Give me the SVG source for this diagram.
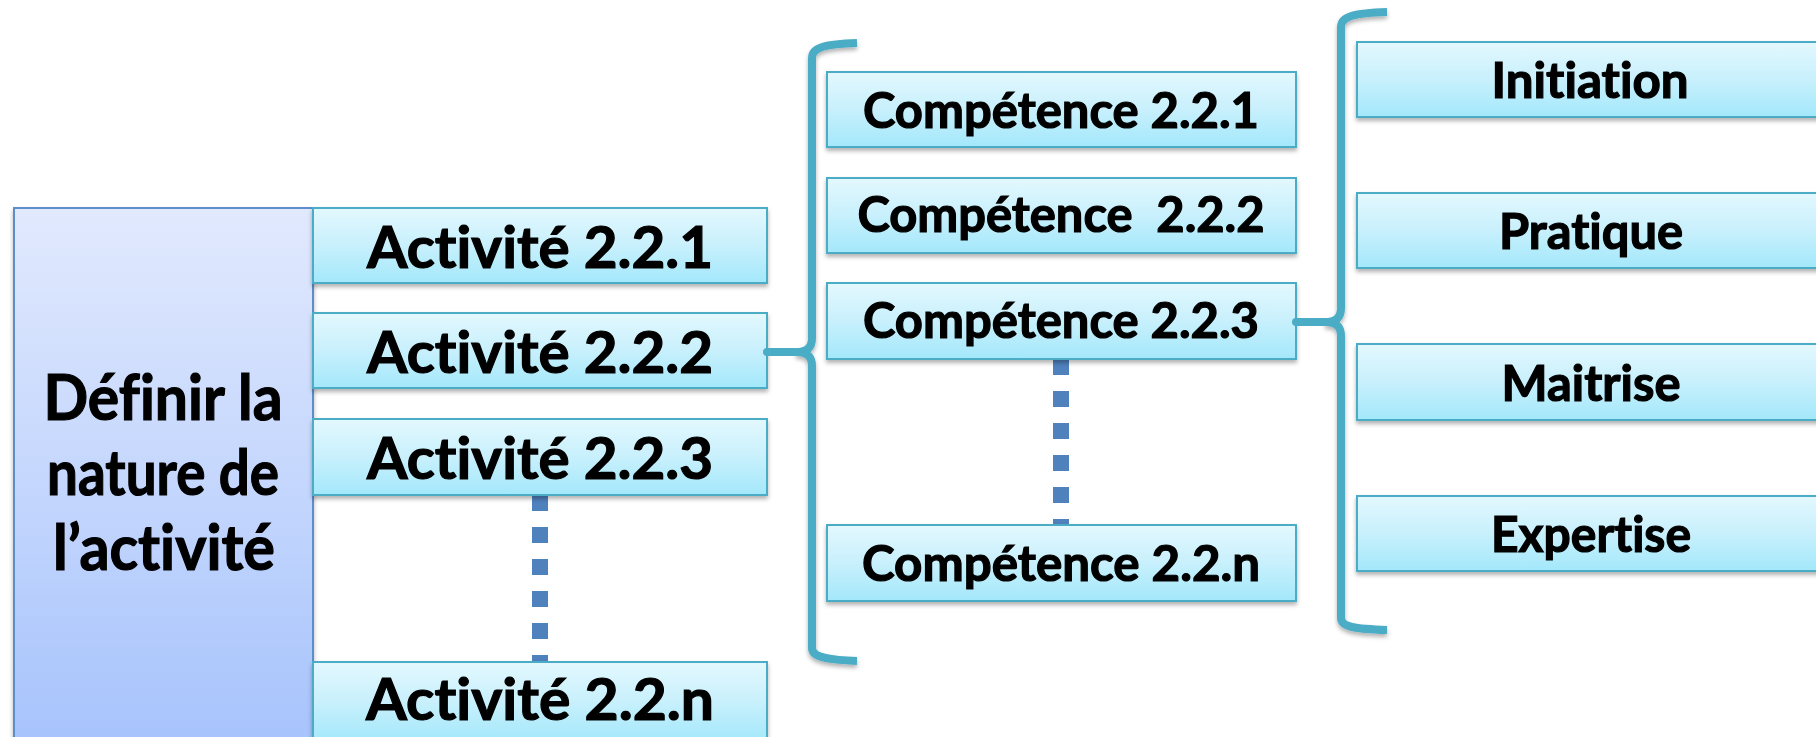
<svg xmlns="http://www.w3.org/2000/svg" width="1816" height="737" viewBox="0 0 1816 737">
  <defs>
    <linearGradient id="gCyan" x1="0" y1="0" x2="0" y2="1">
      <stop offset="0" stop-color="#E3F8FE"/>
      <stop offset="0.5" stop-color="#C8F0FC"/>
      <stop offset="1" stop-color="#A3E8FB"/>
    </linearGradient>
    <linearGradient id="gBlue" x1="0" y1="0" x2="0" y2="1">
      <stop offset="0" stop-color="#E1E9FD"/>
      <stop offset="0.5" stop-color="#C5D7FD"/>
      <stop offset="1" stop-color="#A6C3FC"/>
    </linearGradient>
    <filter id="shadow" x="-10%" y="-20%" width="120%" height="150%">
      <feDropShadow dx="0" dy="3" stdDeviation="2" flood-color="#000" flood-opacity="0.3"/>
    </filter>
  </defs>
  <style>
    .box { fill: url(#gCyan); stroke: #4BACC6; stroke-width: 2; filter: url(#shadow); }
    .main { fill: url(#gBlue); stroke: #5B8DCC; stroke-width: 2; filter: url(#shadow); }
    .t { font-family: Lato, "Open Sans", "Liberation Sans", sans-serif; font-weight: bold; fill: #000; stroke: #000; stroke-width: 1.2; text-anchor: middle; font-variant-ligatures: none; font-feature-settings: "liga" 0, "clig" 0; }
    .big { font-size: 57px; }
    .mid { font-size: 49px; }
    .head { font-size: 63px; }
    .dots { stroke: #4F81BD; stroke-width: 16; stroke-dasharray: 16 16; fill: none; }
    .brace { stroke: #4BACC6; stroke-width: 8; fill: none; filter: url(#shadow); }
    .stub { stroke: #4BACC6; stroke-width: 8; fill: none; stroke-linecap: round; }
  </style>

  <rect width="1816" height="737" fill="#FFFFFF"/>

  <!-- connectors: dotted continuations and braces -->
  <g id="connectors">
    <line class="dots" x1="540" y1="495" x2="540" y2="662"/>
    <line class="dots" x1="1061" y1="359" x2="1061" y2="525"/>
  </g>

  <!-- root node -->
  <g id="root">
    <rect class="main" x="14" y="208" width="299" height="540"/>
    <text class="t head" x="163" y="420" textLength="239" lengthAdjust="spacingAndGlyphs">Définir la</text>
    <text class="t head" x="163" y="495" textLength="232" lengthAdjust="spacingAndGlyphs">nature de</text>
    <text class="t head" x="164" y="570" textLength="222" lengthAdjust="spacingAndGlyphs">l’activité</text>
  </g>

  <!-- activities -->
  <g id="act1">
    <rect class="box" x="313" y="208" width="454" height="75"/>
    <text class="t big" x="540" y="268" textLength="346" lengthAdjust="spacingAndGlyphs">Activité 2.2.1</text>
  </g>
  <g id="act2">
    <rect class="box" x="313" y="313" width="454" height="75"/>
    <text class="t big" x="540" y="373" textLength="346" lengthAdjust="spacingAndGlyphs">Activité 2.2.2</text>
  </g>
  <g id="act3">
    <rect class="box" x="313" y="419" width="454" height="76"/>
    <text class="t big" x="540" y="479" textLength="346" lengthAdjust="spacingAndGlyphs">Activité 2.2.3</text>
  </g>
  <g id="actn">
    <rect class="box" x="313" y="662" width="454" height="80"/>
    <text class="t big" x="540" y="720" textLength="348" lengthAdjust="spacingAndGlyphs">Activité 2.2.n</text>
  </g>

  <!-- competences -->
  <g id="comp1">
    <rect class="box" x="827" y="72" width="469" height="75"/>
    <text class="t mid" x="1061" y="128" textLength="396" lengthAdjust="spacingAndGlyphs">Compétence 2.2.1</text>
  </g>
  <g id="comp2">
    <rect class="box" x="827" y="178" width="469" height="75"/>
    <text class="t mid" x="1061" y="232" textLength="407" lengthAdjust="spacingAndGlyphs" xml:space="preserve">Compétence  2.2.2</text>
  </g>
  <g id="comp3">
    <rect class="box" x="827" y="283" width="469" height="76"/>
    <text class="t mid" x="1061" y="338" textLength="396" lengthAdjust="spacingAndGlyphs">Compétence 2.2.3</text>
  </g>
  <g id="compn">
    <rect class="box" x="827" y="525" width="469" height="76"/>
    <text class="t mid" x="1061" y="581" textLength="398" lengthAdjust="spacingAndGlyphs">Compétence 2.2.n</text>
  </g>

  <!-- levels -->
  <g id="initiation">
    <rect class="box" x="1357" y="42" width="480" height="75"/>
    <text class="t mid" x="1590" y="98" textLength="197" lengthAdjust="spacingAndGlyphs">Initiation</text>
  </g>
  <g id="pratique">
    <rect class="box" x="1357" y="193" width="480" height="75"/>
    <text class="t mid" x="1591" y="249" textLength="184" lengthAdjust="spacingAndGlyphs">Pratique</text>
  </g>
  <g id="maitrise">
    <rect class="box" x="1357" y="344" width="480" height="76"/>
    <text class="t mid" x="1591" y="401" textLength="179" lengthAdjust="spacingAndGlyphs">Maitrise</text>
  </g>
  <g id="expertise">
    <rect class="box" x="1357" y="496" width="480" height="75"/>
    <text class="t mid" x="1591" y="552" textLength="200" lengthAdjust="spacingAndGlyphs">Expertise</text>
  </g>

  <!-- braces grouping the children of Activité 2.2.2 and Compétence 2.2.3 -->
  <g id="braces">
    <path class="brace" d="M857,43 C826,44 812,47 812,58 L812,338 C812,348 806,352 796,352 C806,352 812,356 812,366 L812,648 C812,657 826,660 857,661"/>
    <path class="stub" d="M767,352 L798,352"/>
    <path class="brace" d="M1387,12 C1355,13 1341,16 1341,27 L1341,308 C1341,318 1335,322 1325,322 C1335,322 1341,326 1341,336 L1341,618 C1341,627 1355,629 1387,630"/>
    <path class="stub" d="M1296,322 L1327,322"/>
  </g>
</svg>
